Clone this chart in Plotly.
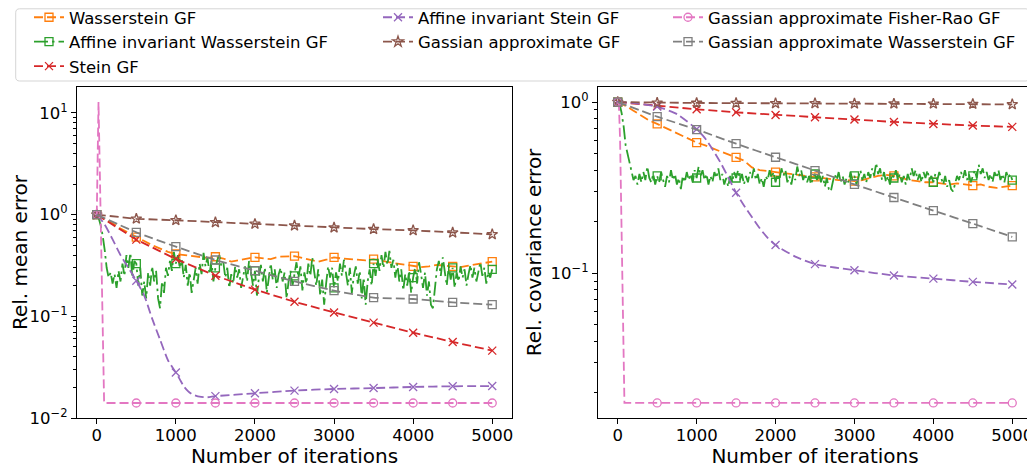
import plotly.graph_objects as go

FONT = "DejaVu Sans"
FS = 16.5

# ---------------- data ----------------
NAMES = ["Wasserstein GF", "Affine invariant Wasserstein GF", "Stein GF",
         "Affine invariant Stein GF", "Gassian approximate GF",
         "Gassian approximate Fisher-Rao GF", "Gassian approximate Wasserstein GF"]
COLORS = ["#ff7f0e", "#2ca02c", "#d62728", "#9467bd", "#8c564b", "#e377c2", "#7f7f7f"]

IT_500 = [0, 500, 1000, 1500, 2000, 2500, 3000, 3500, 4000, 4500, 5000]
IT_100 = list(range(0, 5001, 100))
IT_25 = list(range(0, 5001, 25))

# --- left panel: relative mean error ---
mean_wass = [1.0, 0.91, 0.82, 0.73, 0.66, 0.60, 0.55, 0.50, 0.46, 0.43,
             0.41, 0.40, 0.395, 0.38, 0.375, 0.385, 0.37, 0.345, 0.36, 0.37,
             0.38, 0.37, 0.365, 0.385, 0.39, 0.39, 0.375, 0.36, 0.345, 0.36,
             0.38, 0.37, 0.365, 0.36, 0.355, 0.365, 0.35, 0.34, 0.33, 0.32,
             0.31, 0.305, 0.31, 0.32, 0.315, 0.31, 0.305, 0.315, 0.325, 0.33,
             0.345]
mean_aiwass = [1.0, 0.92, 0.78, 0.62, 0.45, 0.30, 0.24, 0.27,
               0.21, 0.26, 0.19, 0.28, 0.22, 0.33, 0.25, 0.40,
               0.30, 0.42, 0.24, 0.35, 0.33, 0.20, 0.30, 0.16,
               0.22, 0.15, 0.27, 0.20, 0.31, 0.22, 0.28, 0.15,
               0.12, 0.22, 0.17, 0.30, 0.25, 0.35, 0.28, 0.43,
               0.33, 0.40, 0.30, 0.36, 0.24, 0.32, 0.20, 0.27,
               0.17, 0.24, 0.30, 0.21, 0.33, 0.26, 0.42, 0.31,
               0.38, 0.26, 0.35, 0.22, 0.30, 0.36, 0.40, 0.31,
               0.34, 0.24, 0.30, 0.19, 0.26, 0.21, 0.31, 0.24,
               0.29, 0.19, 0.25, 0.31, 0.22, 0.35, 0.27, 0.20,
               0.28, 0.16, 0.24, 0.32, 0.22, 0.30, 0.17, 0.25,
               0.33, 0.23, 0.29, 0.19, 0.26, 0.30, 0.22, 0.27,
               0.15, 0.22, 0.28, 0.20, 0.25, 0.34, 0.24, 0.31,
               0.18, 0.27, 0.21, 0.33, 0.25, 0.38, 0.27, 0.20,
               0.29, 0.16, 0.23, 0.13, 0.21, 0.31, 0.24, 0.30,
               0.19, 0.27, 0.22, 0.33, 0.25, 0.36, 0.27, 0.20,
               0.30, 0.17, 0.25, 0.31, 0.21, 0.28, 0.15, 0.24,
               0.13, 0.22, 0.29, 0.20, 0.33, 0.25, 0.37, 0.28,
               0.40, 0.30, 0.43, 0.32, 0.44, 0.30, 0.36, 0.24,
               0.33, 0.22, 0.29, 0.18, 0.26, 0.20, 0.28, 0.17,
               0.24, 0.30, 0.21, 0.34, 0.26, 0.19, 0.27, 0.16,
               0.22, 0.13, 0.12, 0.20, 0.29, 0.35, 0.25, 0.38,
               0.28, 0.20, 0.31, 0.23, 0.30, 0.19, 0.27, 0.22,
               0.31, 0.24, 0.29, 0.20, 0.26, 0.32, 0.24, 0.30,
               0.22, 0.28, 0.34, 0.25, 0.30, 0.21, 0.27, 0.24,
               0.29]
mean_stein = [1.0, 0.568, 0.366, 0.251, 0.183, 0.139, 0.109, 0.0867, 0.069, 0.056, 0.046]
mean_aistein_it = [0, 100, 200, 300, 400, 500, 600, 700, 800, 900, 1000, 1050, 1100, 1150,
                   1200, 1250, 1300, 1400, 1500, 2000, 2500, 3000, 3500, 4000, 4500, 5000]
mean_aistein = [1.0, 0.8, 0.57, 0.40, 0.30, 0.224, 0.16, 0.095, 0.059, 0.037, 0.028, 0.024,
                0.0205, 0.0185, 0.0172, 0.0166, 0.0162, 0.016, 0.0164, 0.0175, 0.0186,
                0.0193, 0.0197, 0.0202, 0.0205, 0.0206]
mean_gauss = [1.0, 0.91, 0.88, 0.84, 0.81, 0.78, 0.745, 0.72, 0.70, 0.665, 0.64]
mean_gfr_it = [0, 8, 15, 22, 40, 60, 80, 93, 500, 1000, 1500, 2000, 2500, 3000, 3500, 4000, 4500, 5000]
mean_gfr = [1.0, 5.0, 12.0, 12.8, 2.3, 0.32, 0.047, 0.01405, 0.01405, 0.01405, 0.01405,
            0.01405, 0.01405, 0.01405, 0.01405, 0.01405, 0.01405, 0.01405]
mean_gwass = [1.0, 0.67, 0.484, 0.358, 0.281, 0.221, 0.179, 0.153, 0.148, 0.137, 0.130]

# --- right panel: relative covariance error ---
cov_wass = [1.0, 0.95, 0.89, 0.83, 0.78, 0.745, 0.71, 0.67, 0.64, 0.61,
            0.58, 0.56, 0.535, 0.515, 0.495, 0.475, 0.455, 0.415, 0.40, 0.395,
            0.39, 0.385, 0.38, 0.375, 0.37, 0.365, 0.36, 0.355, 0.35, 0.35,
            0.345, 0.35, 0.36, 0.37, 0.375, 0.37, 0.36, 0.35, 0.345, 0.34,
            0.34, 0.335, 0.33, 0.335, 0.33, 0.325, 0.33, 0.32, 0.315, 0.32,
            0.325]
cov_aiwass = [1.0, 0.97, 0.86, 0.72, 0.56, 0.50, 0.45, 0.40,
              0.35, 0.37, 0.33, 0.38, 0.34, 0.39, 0.35, 0.42,
              0.36, 0.34, 0.38, 0.33, 0.37, 0.34, 0.39, 0.35,
              0.32, 0.37, 0.34, 0.40, 0.35, 0.38, 0.33, 0.36,
              0.31, 0.37, 0.34, 0.39, 0.35, 0.38, 0.34, 0.40,
              0.36, 0.42, 0.37, 0.40, 0.35, 0.38, 0.33, 0.37,
              0.34, 0.39, 0.36, 0.41, 0.35, 0.38, 0.33, 0.36,
              0.32, 0.37, 0.34, 0.39, 0.36, 0.40, 0.35, 0.38,
              0.33, 0.37, 0.34, 0.39, 0.36, 0.41, 0.35, 0.38,
              0.33, 0.36, 0.32, 0.37, 0.35, 0.40, 0.36, 0.39,
              0.34, 0.38, 0.35, 0.41, 0.37, 0.40, 0.34, 0.37,
              0.33, 0.38, 0.35, 0.42, 0.37, 0.40, 0.35, 0.38,
              0.34, 0.37, 0.33, 0.36, 0.38, 0.35, 0.40, 0.34,
              0.37, 0.32, 0.36, 0.31, 0.30, 0.34, 0.38, 0.35,
              0.39, 0.34, 0.37, 0.33, 0.36, 0.34, 0.39, 0.35,
              0.37, 0.33, 0.36, 0.40, 0.35, 0.38, 0.34, 0.39,
              0.36, 0.41, 0.37, 0.44, 0.38, 0.41, 0.35, 0.39,
              0.34, 0.37, 0.33, 0.38, 0.36, 0.40, 0.35, 0.38,
              0.34, 0.37, 0.33, 0.38, 0.35, 0.41, 0.37, 0.40,
              0.35, 0.38, 0.34, 0.39, 0.36, 0.40, 0.35, 0.37,
              0.34, 0.38, 0.35, 0.39, 0.36, 0.33, 0.37, 0.32,
              0.35, 0.31, 0.30, 0.34, 0.37, 0.35, 0.39, 0.36,
              0.40, 0.35, 0.38, 0.34, 0.37, 0.40, 0.36, 0.43,
              0.38, 0.41, 0.36, 0.39, 0.35, 0.38, 0.34, 0.39,
              0.36, 0.40, 0.35, 0.38, 0.34, 0.39, 0.36, 0.38,
              0.35]
cov_stein = [1.0, 0.948, 0.907, 0.871, 0.841, 0.815, 0.79, 0.765, 0.745, 0.729, 0.716]
cov_aistein_it = [0, 250, 500, 750, 1000, 1100, 1200, 1300, 1400, 1500, 1600, 1700, 1800,
                  1900, 2000, 2250, 2500, 2750, 3000, 3500, 4000, 4500, 5000]
cov_aistein = [1.0, 0.98, 0.94, 0.85, 0.694, 0.62, 0.53, 0.445, 0.364, 0.295, 0.249, 0.213,
               0.183, 0.161, 0.146, 0.125, 0.113, 0.108, 0.104, 0.097, 0.093, 0.089, 0.086]
cov_gauss = [1.0, 0.99, 0.988, 0.986, 0.983, 0.982, 0.979, 0.978, 0.977, 0.974, 0.969]
cov_gfr_it = [0, 15, 30, 50, 70, 85, 500, 1000, 1500, 2000, 2500, 3000, 3500, 4000, 4500, 5000]
cov_gfr = [1.0, 0.97, 0.6, 0.16, 0.04, 0.01745, 0.01745, 0.01745, 0.01745, 0.01745,
           0.01745, 0.01745, 0.01745, 0.01745, 0.01745, 0.01745]
cov_gwass = [1.0, 0.822, 0.691, 0.571, 0.476, 0.398, 0.330, 0.277, 0.232, 0.195, 0.163]

LEFT = [(IT_100, mean_wass), (IT_25, mean_aiwass), (IT_500, mean_stein),
        (mean_aistein_it, mean_aistein), (IT_500, mean_gauss),
        (mean_gfr_it, mean_gfr), (IT_500, mean_gwass)]
RIGHT = [(IT_100, cov_wass), (IT_25, cov_aiwass), (IT_500, cov_stein),
         (cov_aistein_it, cov_aistein), (IT_500, cov_gauss),
         (cov_gfr_it, cov_gfr), (IT_500, cov_gwass)]

X_TICKS = [0, 1000, 2000, 3000, 4000, 5000]
Y_TICKS_L = [0.01, 0.1, 1, 10]
Y_TEXT_L = ["10<sup>\u22122</sup>", "10<sup>\u22121</sup>", "10<sup>0</sup>", "10<sup>1</sup>"]
Y_TICKS_R = [0.1, 1]
Y_TEXT_R = ["10<sup>\u22121</sup>", "10<sup>0</sup>"]

# ---------------- styles ----------------
DASH = "9px,4px"
DASHDOT = "14px,4px,2.5px,4px"
DASHES = [DASH, DASHDOT, DASH, DASH, DASH, DASH, DASH]
SYMBOLS = ["square-open", "square-open", "x-thin", "x-thin", "star-open", "circle-open", "square-open"]
MSIZE = [8, 8, 8, 8, 8, 8, 8]
SMOOTH = [False, False, False, True, False, False, True]
LEGEND_OF = ["legend", "legend", "legend", "legend2", "legend2", "legend3", "legend3"]

fig = go.Figure()

def marker_of(i):
    return dict(symbol=SYMBOLS[i], size=MSIZE[i], color=COLORS[i],
                line=dict(color=COLORS[i], width=1.3))

for i, name in enumerate(NAMES):
    for panel, (xa, ya) in ((LEFT, ("x", "y")), (RIGHT, ("x2", "y2"))):
        xs, ys = panel[i]
        line = dict(color=COLORS[i], width=1.8, dash=DASHES[i])
        if SMOOTH[i]:
            line.update(shape="spline", smoothing=0.6)
        fig.add_trace(go.Scatter(x=xs, y=ys, mode="lines", line=line, xaxis=xa, yaxis=ya,
                                 name=name, legendgroup=name, legend=LEGEND_OF[i],
                                 showlegend=False))
        mx = [x for x in xs if x % 500 == 0]
        my = [y for x, y in zip(xs, ys) if x % 500 == 0]
        fig.add_trace(go.Scatter(x=mx, y=my, mode="markers", marker=marker_of(i),
                                 xaxis=xa, yaxis=ya, name=name, legendgroup=name,
                                 legend=LEGEND_OF[i], showlegend=False))

# legend entries (line + marker)
for i, name in enumerate(NAMES):
    fig.add_trace(go.Scatter(x=[None], y=[None], mode="lines+markers", name=name,
                             line=dict(color=COLORS[i], width=1.8, dash=DASHES[i]),
                             marker=marker_of(i), legendgroup=name, legend=LEGEND_OF[i],
                             showlegend=True, xaxis="x", yaxis="y"))

axis_common = dict(showline=True, mirror=True, linecolor="black", linewidth=1.2,
                   ticks="outside", ticklen=5, tickwidth=1.2, tickcolor="black",
                   showgrid=False, zeroline=False, automargin=False,
                   tickfont=dict(family=FONT, size=FS, color="black"))

def minor_vals(lo_exp, hi_exp):
    return [m * 10 ** e for e in range(lo_exp, hi_exp + 1) for m in range(2, 10)]

# The page body has an 8px margin, so the figure is drawn 8px in and down;
# positions below are given in page pixels and converted.
OFF = 8
W, H = 1035 - OFF, 468 - OFF
ML, MR, MT, MB = 77 - OFF, 3, 87 - OFF, 50
PW = W - ML - MR
PH = H - MT - MB

def px_x(p):
    return (p - OFF - ML) / PW

def px_y(p):
    return (H - MB - (p - OFF)) / PH

fig.update_layout(
    width=W, height=H, margin=dict(l=ML, r=MR, t=MT, b=MB, autoexpand=False),
    paper_bgcolor="white", plot_bgcolor="white",
    font=dict(family=FONT, size=FS, color="black"),
    xaxis=dict(domain=[0, px_x(512)], range=[-250, 5250], tickvals=X_TICKS,
               ticklabelstandoff=-3,
               title=dict(text="Number of iterations", standoff=6), **axis_common),
    xaxis2=dict(domain=[px_x(598), 1], range=[-250, 5250], tickvals=X_TICKS,
                anchor="y2", ticklabelstandoff=-3,
                title=dict(text="Number of iterations", standoff=6), **axis_common),
    yaxis=dict(type="log", range=[-2.0, 1.255], tickvals=Y_TICKS_L, ticktext=Y_TEXT_L,
               minor=dict(tickvals=minor_vals(-2, 1), ticks="outside", ticklen=3,
                          tickwidth=1, tickcolor="black", showgrid=False),
               title=dict(text="Rel. mean error", standoff=0), **axis_common),
    yaxis2=dict(type="log", range=[-1.846, 0.088], tickvals=Y_TICKS_R, ticktext=Y_TEXT_R,
                anchor="x2",
                minor=dict(tickvals=minor_vals(-2, 0), ticks="outside", ticklen=3,
                           tickwidth=1, tickcolor="black", showgrid=False),
                title=dict(text="Rel. covariance error", standoff=3), **axis_common),
    showlegend=True,
)

leg_common = dict(orientation="v", xref="paper", yref="paper", y=px_y(0),
                  xanchor="left", yanchor="top", bgcolor="rgba(0,0,0,0)",
                  borderwidth=0, font=dict(family=FONT, size=FS, color="black"),
                  tracegroupgap=0)
fig.update_layout(legend=dict(x=px_x(29), **leg_common),
                  legend2=dict(x=px_x(378), **leg_common),
                  legend3=dict(x=px_x(668), **leg_common))

# legend frame (rounded box)
x0, x1 = px_x(15.7), px_x(1030)
y0, y1 = px_y(81), px_y(OFF + 0.8)
rx, ry = 4 / PW, 4 / PH
path = (f"M{x0+rx},{y1} L{x1-rx},{y1} Q{x1},{y1} {x1},{y1-ry} L{x1},{y0+ry} "
        f"Q{x1},{y0} {x1-rx},{y0} L{x0+rx},{y0} Q{x0},{y0} {x0},{y0+ry} "
        f"L{x0},{y1-ry} Q{x0},{y1} {x0+rx},{y1} Z")
fig.add_shape(type="path", path=path, xref="paper", yref="paper",
              line=dict(color="#d5d5d5", width=1), fillcolor="rgba(255,255,255,0)")

fig.write_html("out.html")
